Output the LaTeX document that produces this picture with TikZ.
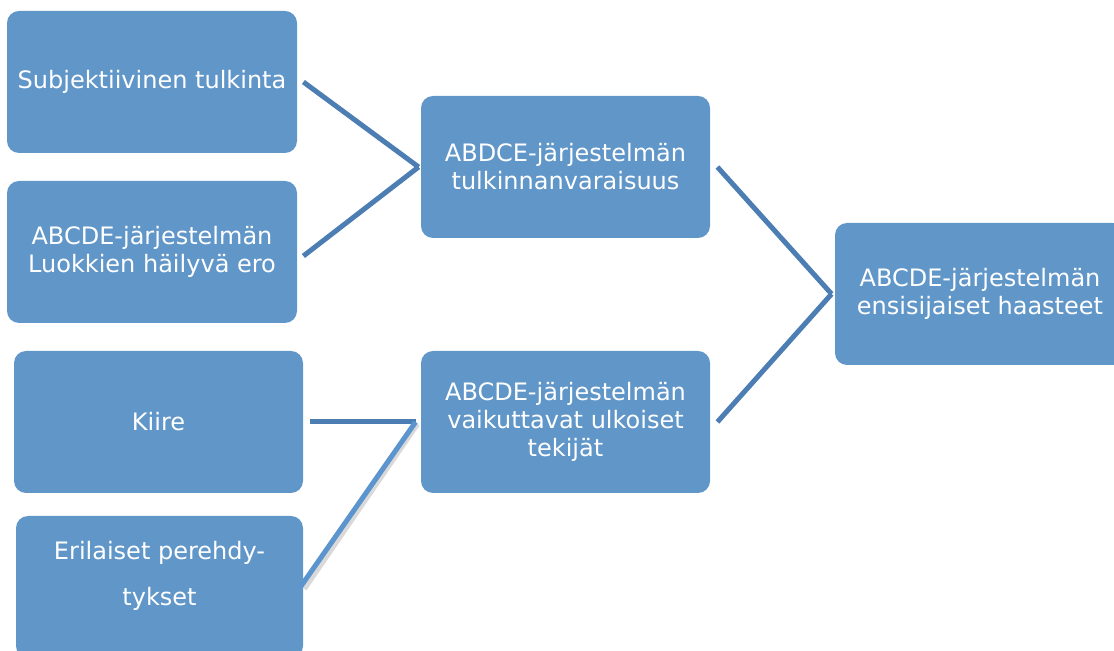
\documentclass[tikz,border=0pt]{standalone}
\usepackage{fontspec}
\setmainfont{DejaVu Sans}
\usepackage{tikz}
\usetikzlibrary{positioning}

\definecolor{boxblue}{RGB}{97,150,201}
\definecolor{linkblue}{RGB}{76,126,180}
\definecolor{lightlink}{RGB}{92,149,206}

\tikzset{
  box/.style={rectangle, rounded corners=6pt, fill=boxblue, text=white,
    minimum width=145pt, minimum height=71pt, inner sep=2pt, align=center,
    font=\fontsize{12}{14}\selectfont},
  link/.style={draw=linkblue, line width=2.5pt},
}

\begin{document}
\begin{tikzpicture}[x=0.5pt,y=-0.5pt]
  \useasboundingbox (0,0) rectangle (1114,651);
  % left column
  \node[box] (subj) at (152,82) {Subjektiivinen tulkinta};
  \node[box] (luokat) at (152,252) {ABCDE-järjestelmän\\Luokkien häilyvä ero};
  \node[box, minimum width=144.5pt] (kiire) at (158.5,422) {Kiire};
  \node[box, minimum width=143.5pt, text depth=14pt] (pereh) at (159.5,587)
    {Erilaiset perehdy-\\[9pt]tykset};
  % middle column
  \node[box, minimum width=144.5pt] (tulk) at (565.5,167)
    {ABDCE-järjestelmän\\tulkinnanvaraisuus};
  \node[box, minimum width=144.5pt] (ulk) at (565.5,422)
    {ABCDE-järjestelmän\\vaikuttavat ulkoiset\\tekijät};
  % right
  \node[box] (haast) at (980,294) {ABCDE-järjestelmän\\ensisijaiset haasteet};

  \draw[link] ([xshift=3pt]subj.east) -- ([xshift=-1pt]tulk.west);
  \draw[link] ([xshift=3pt,yshift=-2pt]luokat.east) -- ([xshift=-1pt]tulk.west);
  \draw[link] ([xshift=3.5pt]tulk.east) -- ([xshift=-1.5pt]haast.west);
  \draw[link] ([xshift=3.5pt]ulk.east) -- ([xshift=-1.5pt]haast.west);
  \draw[link] ([xshift=3.5pt]kiire.east) -- ([xshift=-2.5pt]ulk.west);
  \draw[draw=black!15, line width=2.5pt] ([xshift=-1.5pt,yshift=-1pt]ulk.west) -- ([xshift=0.5pt,yshift=-1pt]pereh.east);
  \draw[draw=lightlink, line width=2.5pt] ([xshift=-2.5pt]ulk.west) -- ([xshift=-1.5pt]pereh.east);
\end{tikzpicture}
\end{document}
